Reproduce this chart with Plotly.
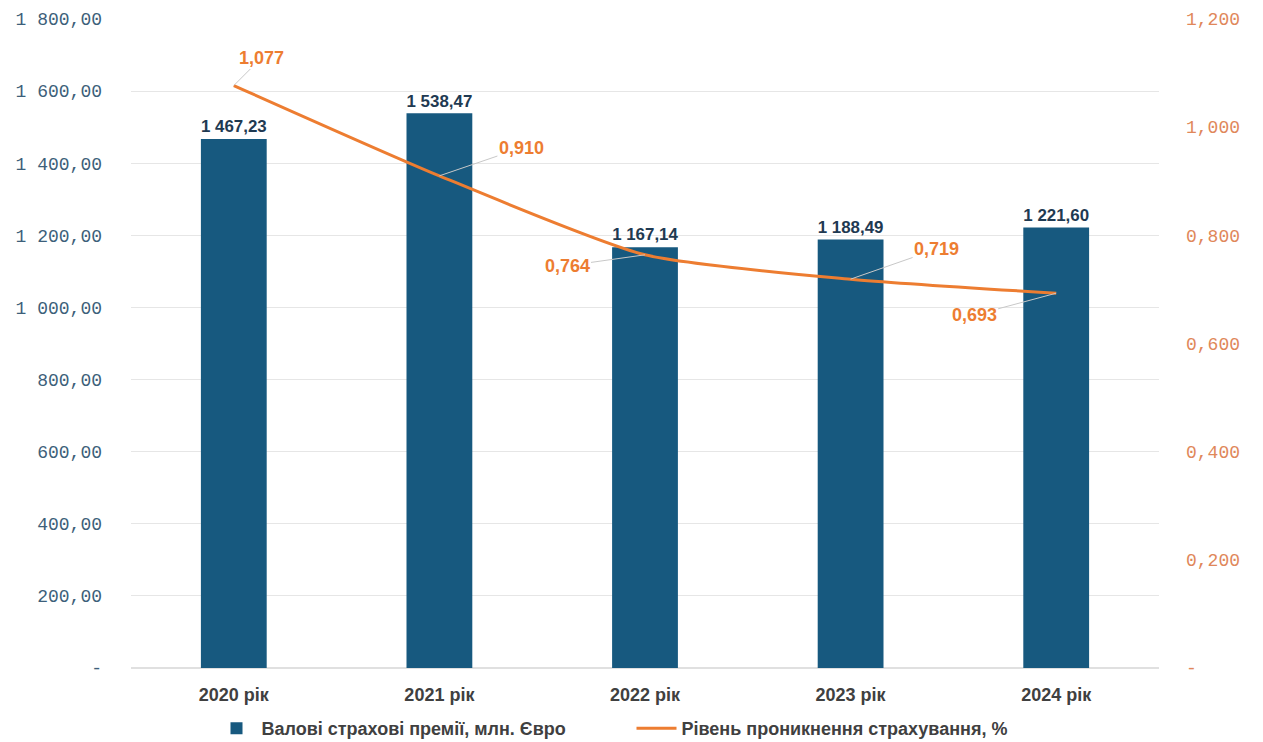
import plotly.graph_objects as go

categories = ["2020 рік", "2021 рік", "2022 рік", "2023 рік", "2024 рік"]
premiums = [1467.23, 1538.47, 1167.14, 1188.49, 1221.60]
penetration = [1.077, 0.910, 0.764, 0.719, 0.693]

left_ticks = [0, 200, 400, 600, 800, 1000, 1200, 1400, 1600, 1800]
right_ticks = [0, 0.2, 0.4, 0.6, 0.8, 1.0, 1.2]

bar_name = "Валові страхові премії, млн. Євро"
line_name = "Рівень проникнення страхування, %"

def fmt_left(v):
    if v == 0:
        return "-"
    return f"{v:,.2f}".replace(",", " ").replace(".", ",")

def fmt_right(v):
    if v == 0:
        return "-"
    return f"{v:.3f}".replace(".", ",")

# label offsets in pixels (ax, ay) for line annotations
label_offsets = [(28, -28), (82, -28), (-78, 11), (86, -30), (-82, 22)]

BAR_COLOR = "#17597f"
LINE_COLOR = "#ed7d31"
SANS = "Liberation Sans, Arial, sans-serif"
MONO = "Liberation Mono, Courier New, monospace"

fig = go.Figure()
fig.add_trace(go.Bar(
    x=categories, y=premiums, name=bar_name,
    marker=dict(color=BAR_COLOR, line=dict(width=0)),
    texttemplate="%{y:,.2f}", textposition="outside",
    textfont=dict(family=SANS, size=18, color="#1f3a52", weight="bold"),
    cliponaxis=False,
))
fig.add_trace(go.Scatter(
    x=categories, y=penetration, name=line_name, yaxis="y2",
    mode="lines", line=dict(color=LINE_COLOR, width=3, shape="spline", smoothing=0.6),
))

for c, v, (ax, ay) in zip(categories, penetration, label_offsets):
    fig.add_annotation(
        x=c, y=v, xref="x", yref="y2", text=f"{v:.3f}".replace(".", ","),
        showarrow=True, arrowhead=0, arrowwidth=1, arrowcolor="#c8c8c8",
        ax=ax, ay=ay, standoff=0, startstandoff=0,
        font=dict(family=SANS, size=18, color=LINE_COLOR, weight="bold"),
    )

fig.update_layout(
    width=1263, height=742,
    margin=dict(l=131, r=104, t=19, b=74, autoexpand=False),
    paper_bgcolor="white", plot_bgcolor="white",
    separators=", ",
    bargap=0.68,
    showlegend=True,
    legend=dict(orientation="h", x=0.5, xanchor="center", xref="container",
                y=0.018, yanchor="middle", yref="container",
                font=dict(family=SANS, size=18, color="#404040", weight="bold"),
                itemwidth=40, traceorder="normal",
                entrywidth=365, entrywidthmode="pixels"),
    xaxis=dict(showgrid=False, showline=False, ticks="", ticklabelstandoff=14,
               tickfont=dict(family=SANS, size=18, color="#404040", weight="bold")),
    yaxis=dict(range=[0, 1800], tickvals=left_ticks,
               ticktext=[fmt_left(v) for v in left_ticks],
               showgrid=True, gridcolor="#e6e6e6", gridwidth=1,
               zeroline=True, zerolinecolor="#e0e0e0", showline=False,
               ticklabelstandoff=28,
               tickfont=dict(family=MONO, size=18, color="#3d5f7a")),
    yaxis2=dict(range=[0, 1.2], tickvals=right_ticks,
                ticktext=[fmt_right(v) for v in right_ticks],
                overlaying="y", side="right", showgrid=False, zeroline=False,
                showline=False, ticklabelstandoff=26,
                tickfont=dict(family=MONO, size=18, color="#e0875a")),
)

fig.write_html("out.html")
